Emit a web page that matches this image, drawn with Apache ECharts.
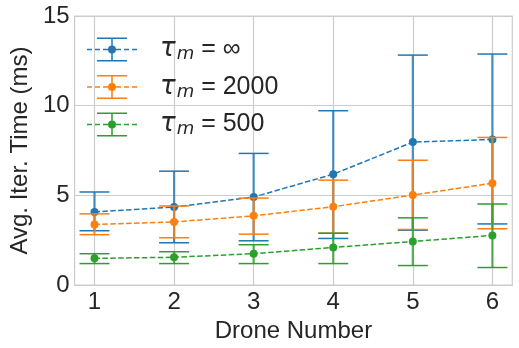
<!DOCTYPE html>
<html>
<head>
<meta charset="utf-8">
<script src="https://cdn.jsdelivr.net/npm/echarts@6/dist/echarts.min.js"></script>
<style>
  html, body { margin: 0; padding: 0; background: #fff; }
  #chart { width: 519px; height: 348px; }
</style>
</head>
<body>
<div id="chart"></div>
<script>
// drone counts on the x axis
const drones = [1, 2, 3, 4, 5, 6];
const yTicks = [0, 5, 10, 15];

// mean iteration time (ms) and error bar ends
const infMean = [4.08, 4.35, 4.91, 6.18, 7.97, 8.12];
const infLow  = [3.03, 2.36, 2.47, 2.60, 3.06, 3.41];
const infHigh = [5.19, 6.35, 7.34, 9.72, 12.82, 12.88];

const t2000Mean = [3.38, 3.52, 3.86, 4.37, 5.02, 5.68];
const t2000Low  = [2.81, 2.64, 2.84, 2.90, 3.10, 3.14];
const t2000High = [3.97, 4.41, 4.85, 5.85, 6.96, 8.23];

const t500Mean = [1.49, 1.55, 1.75, 2.10, 2.43, 2.77];
const t500Low  = [1.20, 1.20, 1.20, 1.20, 1.09, 0.98];
const t500High = [1.75, 1.86, 2.25, 2.89, 3.75, 4.52];

const groups = [
  { name: 'inf',  label: '∞',    color: '#1f77b4', mean: infMean,   low: infLow,   high: infHigh },
  { name: '2000', label: '2000', color: '#ff7f0e', mean: t2000Mean, low: t2000Low, high: t2000High },
  { name: '500',  label: '500',  color: '#2ca02c', mean: t500Mean,  low: t500Low,  high: t500High }
];

const textColor = '#262626';
const gridColor = '#cccccc';

// legend handle: dashed line + errorbar + dot, drawn in a 50x24 box
const legendIcon = 'path://' +
  'M0,11.25h5v1.5h-5z M8,11.25h5v1.5h-5z M16,11.25h5v1.5h-5z ' +
  'M29,11.25h5v1.5h-5z M37,11.25h5v1.5h-5z M45,11.25h5v1.5h-5z ' +
  'M10,0h30v1.5h-30z M10,22.5h30v1.5h-30z ' +
  'M24.25,1.5h1.5v6.5h-1.5z M24.25,16h1.5v6.5h-1.5z ' +
  'M21,12a4,4 0 1 1 8,0a4,4 0 1 1 -8,0z';

function errorBars(color) {
  return function (params, api) {
    const x = api.value(0);
    const top = api.coord([x, api.value(2)]);
    const bot = api.coord([x, api.value(1)]);
    const cap = 15;
    return {
      type: 'group',
      children: [
        { type: 'line', shape: { x1: top[0], y1: top[1], x2: bot[0], y2: bot[1] },
          style: { stroke: color, lineWidth: 2.2, opacity: 0.8 } },
        { type: 'line', shape: { x1: top[0] - cap, y1: top[1], x2: top[0] + cap, y2: top[1] },
          style: { stroke: color, lineWidth: 1.5 } },
        { type: 'line', shape: { x1: bot[0] - cap, y1: bot[1], x2: bot[0] + cap, y2: bot[1] },
          style: { stroke: color, lineWidth: 1.5 } }
      ]
    };
  };
}

const series = [];
groups.forEach(function (g, gi) {
  series.push({
    type: 'custom',
    name: g.name + '_err',
    renderItem: errorBars(g.color),
    encode: { x: 0, y: [1, 2] },
    data: drones.map(function (d, i) { return [d, g.low[i], g.high[i]]; }),
    z: 2 + gi * 2,
    silent: true
  });
  series.push({
    type: 'line',
    name: g.name,
    data: drones.map(function (d, i) { return [d, g.mean[i]]; }),
    symbol: 'circle',
    symbolSize: 8,
    color: g.color,
    itemStyle: { color: g.color },
    lineStyle: { color: g.color, width: 1.5, type: [5.5, 2.4] },
    z: 3 + gi * 2,
    animation: false
  });
});

const chart = echarts.init(document.getElementById('chart'), null, { renderer: 'canvas' });
chart.setOption({
  animation: false,
  backgroundColor: '#ffffff',
  grid: {
    left: 66.7, right: 6.7, top: 16, bottom: 61,
    show: true, borderColor: gridColor, borderWidth: 1.2,
    containLabel: false
  },
  legend: {
    orient: 'vertical',
    left: 87, top: 35.5,
    padding: 0,
    itemWidth: 50, itemHeight: 24, itemGap: 9.5,
    icon: legendIcon,
    data: groups.map(function (g) { return g.name; }),
    formatter: function (name) {
      const g = groups.find(function (x) { return x.name === name; });
      return '{sp|}{t|τ}{s|m}{e| = ' + g.label + '}';
    },
    textStyle: {
      color: textColor,
      lineHeight: 24,
      rich: {
        sp: { width: 18, lineHeight: 24 },
        t: { fontFamily: 'DejaVu Sans', fontStyle: 'italic', fontSize: 26, lineHeight: 24, color: textColor },
        s: { fontFamily: 'DejaVu Sans', fontStyle: 'italic', fontSize: 18, lineHeight: 14, color: textColor, padding: [10, 0, 0, 1] },
        e: { fontFamily: 'Liberation Sans', fontSize: 25, lineHeight: 24, color: textColor }
      }
    }
  },
  xAxis: {
    type: 'value',
    min: 0.75, max: 6.25,
    name: 'Drone Number',
    nameLocation: 'middle',
    nameGap: 28,
    nameTextStyle: { fontFamily: 'Liberation Sans', fontSize: 24, color: textColor, verticalAlign: 'top' },
    axisLine: { show: false },
    axisTick: { show: false, customValues: drones },
    axisLabel: { customValues: drones, fontFamily: 'Liberation Sans', fontSize: 24, color: textColor, margin: 5 },
    splitLine: { show: true, lineStyle: { color: gridColor, width: 1.2 } }
  },
  yAxis: {
    type: 'value',
    min: 0, max: 15, interval: 5,
    name: 'Avg. Iter. Time (ms)',
    nameLocation: 'middle',
    nameGap: 41,
    nameTextStyle: { fontFamily: 'Liberation Sans', fontSize: 24, color: textColor, verticalAlign: 'bottom' },
    axisLine: { show: false },
    axisTick: { show: false },
    axisLabel: {
      fontFamily: 'Liberation Sans', fontSize: 24, color: textColor, margin: 5,
      formatter: function (v) { return yTicks.indexOf(v) >= 0 ? String(v) : ''; }
    },
    splitLine: { show: true, lineStyle: { color: gridColor, width: 1.2 } }
  },
  series: series
});
</script>
</body>
</html>
